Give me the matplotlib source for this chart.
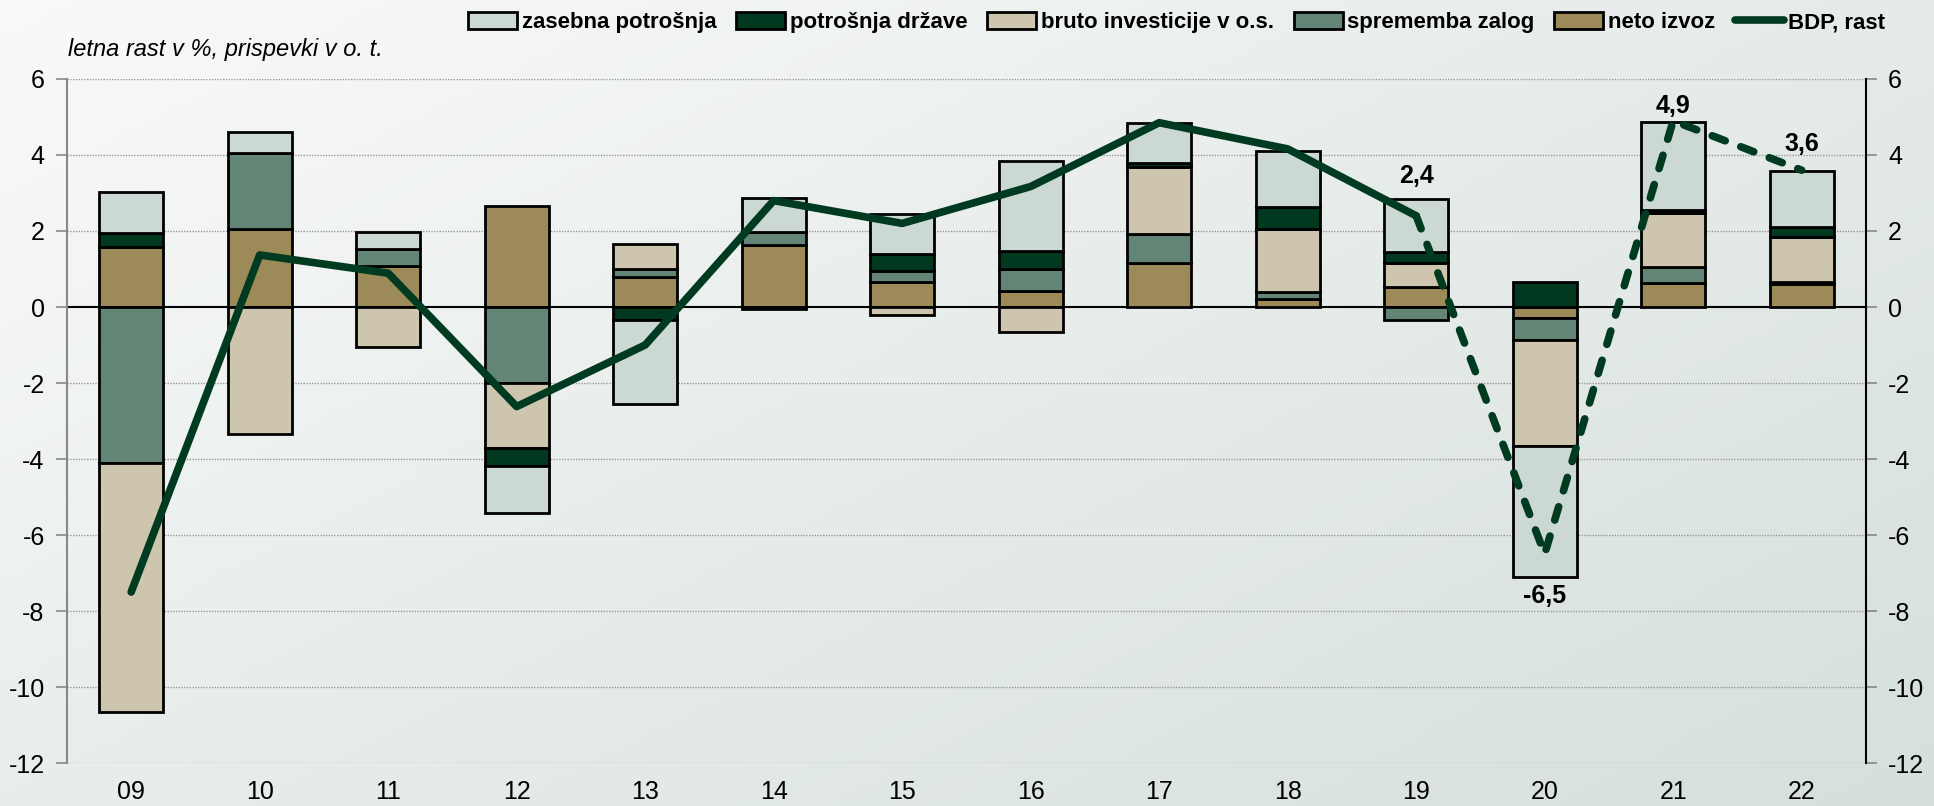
import numpy as np
import matplotlib
matplotlib.use("Agg")
import matplotlib.pyplot as plt
from matplotlib.patches import Patch
from matplotlib.lines import Line2D

plt.rcParams['font.family'] = ['Liberation Sans Narrow', 'Liberation Sans', 'DejaVu Sans']
plt.rcParams['lines.scale_dashes'] = False
plt.rcParams['axes.unicode_minus'] = False

years = ['09', '10', '11', '12', '13', '14', '15', '16', '17', '18', '19', '20', '21', '22']

# contributions in percentage points
zasebna = [1.07, 0.57, 0.45, -1.23, -2.22, 0.90, 1.07, 2.35, 1.05, 1.47, 1.39, -3.45, 2.32, 1.46]
drzava = [0.36, 0.0, 0.0, -0.46, -0.34, -0.05, 0.44, 0.47, 0.09, 0.58, 0.27, 0.65, 0.07, 0.26]
investicije = [-6.57, -3.34, -1.06, -1.73, 0.66, 0.0, -0.21, -0.67, 1.78, 1.66, 0.64, -2.78, 1.42, 1.20]
zaloge = [-4.10, 2.00, 0.44, -1.99, 0.21, 0.34, 0.28, 0.60, 0.74, 0.20, -0.34, -0.60, 0.44, 0.05]
izvoz = [1.59, 2.04, 1.09, 2.67, 0.80, 1.63, 0.67, 0.41, 1.17, 0.20, 0.53, -0.28, 0.62, 0.60]
bdp = [-7.5, 1.37, 0.89, -2.62, -1.0, 2.8, 2.2, 3.17, 4.85, 4.16, 2.4, -6.5, 4.9, 3.6]

series_names = ['zasebna potrošnja', 'potrošnja države', 'bruto investicije v o.s.',
                'sprememba zalog', 'neto izvoz']
colors = ['#CCD8D3', '#003820', '#CDC5AD', '#628575', '#9C8B58']
line_color = '#003A20'

fig = plt.figure(figsize=(19.34, 8.06), dpi=100)

# gradient background
bg = fig.add_axes([0, 0, 1, 1], zorder=-10)
gx, gy = np.meshgrid(np.linspace(0, 1, 200), np.linspace(0, 1, 100))
g = 0.55 * gx + 0.45 * gy
c0 = np.array([0.975, 0.980, 0.978])
c1 = np.array([0.835, 0.875, 0.860])
img = c0[None, None, :] * (1 - g[..., None]) + c1[None, None, :] * g[..., None]
bg.imshow(img, aspect='auto', extent=[0, 1, 0, 1])
bg.axis('off')

ax = fig.add_axes([0.0346, 0.0533, 0.9302, 0.8487])
ax.set_facecolor('none')

x = np.arange(len(years))
width = 0.5

# stack from zero outward: neto izvoz, zaloge, investicije, država, zasebna
stack_order = [4, 3, 2, 1, 0]
data = [zasebna, drzava, investicije, zaloge, izvoz]
pos_bottom = np.zeros(len(years))
neg_bottom = np.zeros(len(years))
for k in stack_order:
    vals = np.array(data[k])
    for i, v in enumerate(vals):
        if v == 0:
            continue
        if v > 0:
            b = pos_bottom[i]
            pos_bottom[i] += v
        else:
            b = neg_bottom[i]
            neg_bottom[i] += v
        ax.bar(x[i], v, width, bottom=b, color=colors[k], edgecolor='black',
               linewidth=2.0, zorder=3)

# GDP line: solid until 19, dashed afterwards
ax.plot(x[:11], bdp[:11], color=line_color, lw=5.5, solid_capstyle='round',
        solid_joinstyle='round', zorder=4)
ax.plot(x[10:], bdp[10:], color=line_color, lw=5.5, dashes=(10, 12),
        dash_capstyle='round', zorder=4)

labels = {10: (3.45, '2,4'), 11: (-7.6, '-6,5'), 12: (5.3, '4,9'), 13: (4.3, '3,6')}
for i, (yy, t) in labels.items():
    ax.text(x[i], yy, t, ha='center', va='center', fontsize=18, fontweight='bold', zorder=5)

ax.set_xlim(-0.5, len(years) - 0.5)
ax.set_ylim(-12, 6)
ax.set_yticks(np.arange(-12, 7, 2))
ax.set_xticks(x)
ax.set_xticklabels(years, fontsize=18)
ax.tick_params(axis='x', length=0, pad=12)
ax.tick_params(axis='y', labelsize=18, length=8, width=1.2, color='#888888', pad=8,
               labelright=True, right=True)
for t in ax.yaxis.get_ticklines()[1::2]:
    t.set_color('black')

for yv in np.arange(-12, 7, 2):
    if yv != 0:
        ax.axhline(yv, color='#999999', lw=1.0, ls=(0, (1, 1)), zorder=1)
ax.axhline(0, color='black', lw=1.5, zorder=2)

ax.spines['top'].set_visible(False)
ax.spines['bottom'].set_visible(False)
ax.spines['left'].set_color('#888888')
ax.spines['left'].set_linewidth(1.5)
ax.spines['right'].set_color('black')
ax.spines['right'].set_linewidth(1.5)

fig.text(0.035, 0.938, 'letna rast v %, prispevki v o. t.', fontsize=17, style='italic',
         ha='left', va='center')

handles = [Patch(facecolor=c, edgecolor='black', linewidth=2.0) for c in colors]
handles.append(Line2D([0], [0], color=line_color, lw=5.5, solid_capstyle='round'))
fig.legend(handles, series_names + ['BDP, rast'], loc='center right',
           bbox_to_anchor=(0.985, 0.972), ncol=6, frameon=False,
           handlelength=2.2, handleheight=0.8, handletextpad=0.2, columnspacing=0.9,
           prop={'size': 16, 'weight': 'bold'})

fig.savefig('out.png', dpi=100)
